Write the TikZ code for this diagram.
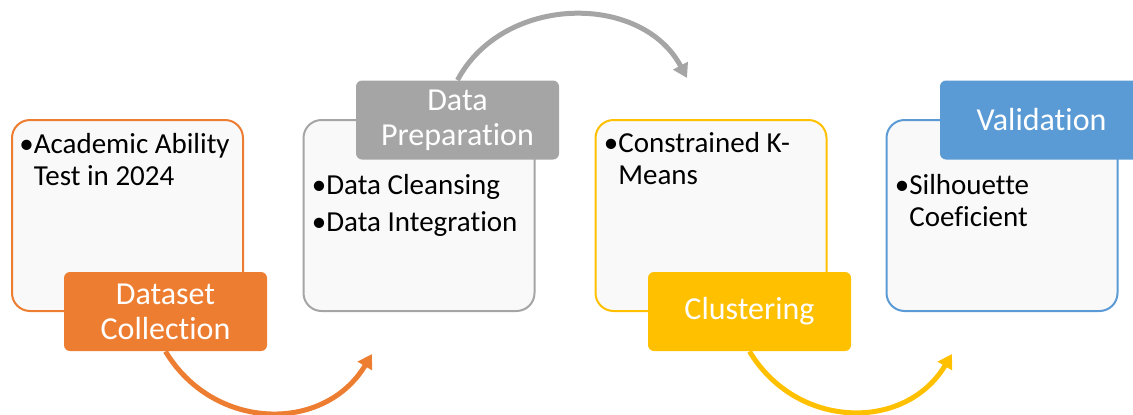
\documentclass[tikz,border=0pt]{standalone}
\usepackage{fontspec}
\setmainfont{Carlito}[Ligatures=NoCommon]
\usepackage{xcolor}
\usepackage{tikz}
\usetikzlibrary{positioning, arrows.meta}
\usetikzlibrary{shapes,fit}
\pgfdeclarelayer{background}
\pgfsetlayers{background,main}

\definecolor{stepOrange}{HTML}{ED7D31}
\definecolor{stepGray}{HTML}{A5A5A5}
\definecolor{stepYellow}{HTML}{FFC000}
\definecolor{stepBlue}{HTML}{5B9BD5}
\definecolor{cardFill}{HTML}{F9F9F9}

\begin{document}
\begin{tikzpicture}[x=0.5pt,y=0.5pt,
    stepbox/.style={draw,rounded corners=9pt,line width=1pt,fill=cardFill,minimum width=115.5pt,minimum height=95.5pt},
    steplabel/.style={rounded corners=3pt,text=white,minimum width=101.5pt,minimum height=39.5pt,align=center,font=\fontsize{16}{17.5}\selectfont},
    steptext/.style={inner sep=0pt,anchor=north west,align=left,font=\fontsize{14.5}{16}\selectfont},
    steparrow/.style={line width=2.5pt,-{Triangle[length=7pt,width=8pt]}}]
            \useasboundingbox (0,0) rectangle (1133,414);

            % step boxes
            \node[stepbox,draw=stepOrange] (box1) at (127.5,198.5) {};
            \node[stepbox,draw=stepGray] (box2) at (419,198.5) {};
            \node[stepbox,draw=stepYellow] (box3) at (711,198.5) {};
            \node[stepbox,draw=stepBlue] (box4) at (1002,198.5) {};

            \node[steptext] (txt1) at ([shift={(8,-14)}]box1.north west) {\textbullet Academic Ability\\\hphantom{\textbullet}Test in 2024};
            \node[steptext] (txt2) at ([shift={(9,-55)}]box2.north west) {\textbullet Data Cleansing\\[2.5pt]\textbullet Data Integration};
            \node[steptext] (txt3) at ([shift={(9,-13)}]box3.north west) {\textbullet Constrained K-\\\hphantom{\textbullet}Means};
            \node[steptext] (txt4) at ([shift={(9,-55)}]box4.north west) {\textbullet Silhouette\\\hphantom{\textbullet}Coeficient};

            % labels
            \node[steplabel,fill=stepOrange] (lab1) at (165.5,102.5) {Dataset\\Collection};
            \node[steplabel,fill=stepGray] (lab2) at (457.5,294) {Data\\Preparation};
            \node[steplabel,fill=stepYellow] (lab3) at (749.5,102.5) {Clustering};
            \node[steplabel,fill=stepBlue] (lab4) at (1041.5,294) {Validation};

            \coordinate (end1) at (372,60);
            \coordinate (end2) at (687,336);
            \coordinate (end3) at (952,60);

            \begin{pgfonlayer}{background}
                \draw[steparrow,stepOrange] (lab1.south) to[out=-59,in=-121,looseness=1.15] (end1);
                \draw[steparrow,stepGray] (lab2.north) to[out=62,in=118,looseness=1.08] (end2);
                \draw[steparrow,stepYellow] (lab3.south) to[out=-59,in=-121,looseness=1.15] (end3);
            \end{pgfonlayer}
        \end{tikzpicture}
\end{document}
